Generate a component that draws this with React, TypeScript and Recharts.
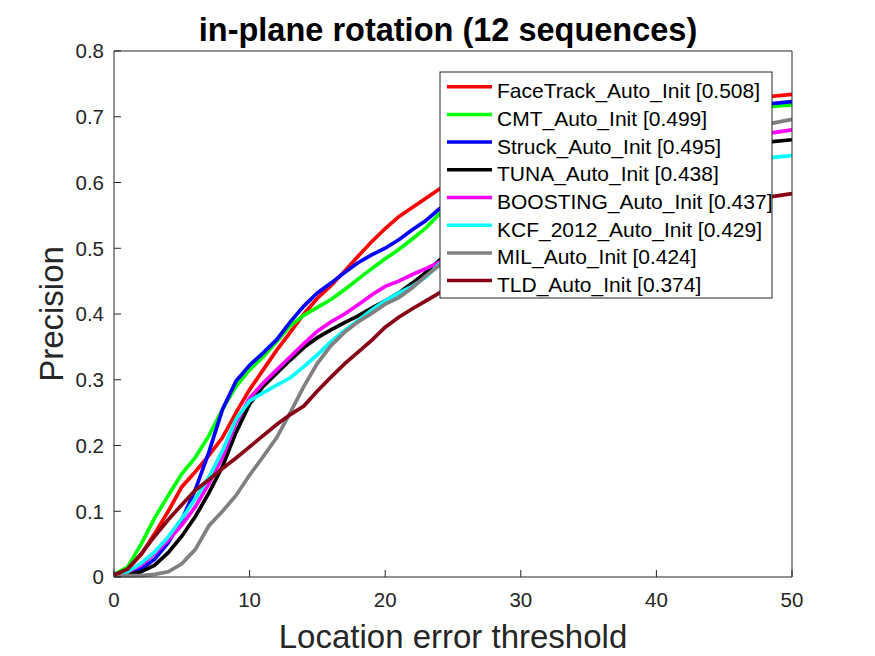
import React from 'react';
import { LineChart, Line, XAxis, YAxis } from 'recharts';

const THRESHOLDS = [0,1,2,3,4,5,6,7,8,9,10,11,12,13,14,15,16,17,18,19,20,21,22,23,24,26,28,30,32,34,36,38,40,42,44,46,48,50];

const FACETRACK = [0.004,0.012,0.034,0.066,0.1,0.137,0.16,0.185,0.212,0.25,0.285,0.315,0.345,0.372,0.4,0.424,0.443,0.465,0.488,0.51,0.53,0.548,0.562,0.576,0.59,0.612,0.632,0.65,0.665,0.678,0.689,0.698,0.706,0.713,0.719,0.725,0.73,0.734];
const CMT = [0.004,0.015,0.05,0.09,0.124,0.157,0.182,0.215,0.255,0.29,0.315,0.335,0.358,0.382,0.398,0.41,0.422,0.437,0.453,0.469,0.484,0.498,0.514,0.531,0.552,0.578,0.6,0.62,0.638,0.654,0.668,0.68,0.69,0.698,0.705,0.71,0.715,0.718];
const STRUCK = [0.004,0.005,0.012,0.027,0.052,0.087,0.133,0.19,0.255,0.298,0.322,0.341,0.361,0.388,0.412,0.432,0.447,0.463,0.478,0.49,0.5,0.513,0.528,0.542,0.56,0.585,0.607,0.627,0.643,0.658,0.671,0.682,0.692,0.7,0.707,0.713,0.719,0.723];
const TUNA = [0.004,0.004,0.008,0.018,0.037,0.062,0.092,0.128,0.168,0.22,0.263,0.29,0.31,0.33,0.349,0.364,0.376,0.387,0.397,0.409,0.42,0.432,0.447,0.463,0.482,0.51,0.535,0.556,0.575,0.592,0.607,0.62,0.631,0.641,0.649,0.655,0.661,0.665];
const BOOSTING = [0.004,0.008,0.018,0.036,0.056,0.079,0.107,0.142,0.182,0.235,0.272,0.295,0.315,0.335,0.355,0.374,0.388,0.4,0.414,0.429,0.442,0.45,0.46,0.469,0.479,0.505,0.53,0.553,0.574,0.594,0.611,0.626,0.639,0.65,0.659,0.667,0.674,0.68];
const KCF = [0.004,0.008,0.021,0.038,0.061,0.089,0.119,0.152,0.192,0.24,0.268,0.28,0.292,0.303,0.32,0.338,0.358,0.375,0.39,0.406,0.42,0.432,0.442,0.456,0.476,0.5,0.522,0.541,0.558,0.573,0.586,0.597,0.607,0.616,0.624,0.631,0.637,0.641];
const MIL = [0.002,0.002,0.002,0.004,0.008,0.02,0.042,0.078,0.1,0.124,0.155,0.183,0.212,0.25,0.29,0.325,0.352,0.372,0.388,0.401,0.415,0.425,0.44,0.458,0.474,0.502,0.528,0.552,0.574,0.594,0.612,0.628,0.642,0.655,0.667,0.678,0.688,0.696];
const TLD = [0.003,0.012,0.035,0.062,0.087,0.11,0.132,0.148,0.165,0.181,0.198,0.215,0.232,0.247,0.26,0.283,0.304,0.324,0.342,0.36,0.38,0.395,0.408,0.42,0.432,0.452,0.47,0.486,0.5,0.513,0.525,0.536,0.546,0.555,0.563,0.57,0.577,0.583];

const SERIES_KEYS = ['facetrack', 'cmt', 'struck', 'tuna', 'boosting', 'kcf', 'mil', 'tld'];
const SERIES_VALUES = [FACETRACK, CMT, STRUCK, TUNA, BOOSTING, KCF, MIL, TLD];
const SERIES_NAMES = [
  'FaceTrack_Auto_Init [0.508]',
  'CMT_Auto_Init [0.499]',
  'Struck_Auto_Init [0.495]',
  'TUNA_Auto_Init [0.438]',
  'BOOSTING_Auto_Init [0.437]',
  'KCF_2012_Auto_Init [0.429]',
  'MIL_Auto_Init [0.424]',
  'TLD_Auto_Init [0.374]',
];
const SERIES_COLORS = ['#ff0000', '#00ff00', '#0000ff', '#000000', '#ff00ff', '#00ffff', '#808080', '#880015'];

const X_TICKS = [0, 10, 20, 30, 40, 50];
const Y_TICKS = [0, 0.1, 0.2, 0.3, 0.4, 0.5, 0.6, 0.7, 0.8];

const TITLE = 'in-plane rotation (12 sequences)';
const X_LABEL = 'Location error threshold';
const Y_LABEL = 'Precision';

const FONT = '"Liberation Sans", Arial, Helvetica, sans-serif';
const AXIS_COLOR = '#262626';

const data = THRESHOLDS.map((t, i) => {
  const row: Record<string, number> = { t };
  SERIES_KEYS.forEach((k, s) => {
    row[k] = SERIES_VALUES[s][i];
  });
  return row;
});

function LegendBox() {
  const rowH = 27.7;
  return (
    <svg
      width={334}
      height={228}
      style={{ position: 'absolute', left: 439, top: 71, pointerEvents: 'none' }}
    >
      <rect x={1} y={1} width={332} height={226} fill="#ffffff" stroke={AXIS_COLOR} strokeWidth={1} />
      {SERIES_NAMES.map((name, i) => {
        const y = 15.7 + i * rowH;
        return (
          <g key={name}>
            <line x1={8} x2={53} y1={y} y2={y} stroke={SERIES_COLORS[i]} strokeWidth={3.5} />
            <text x={58} y={y + 11.5} fontSize={21} fontFamily={FONT} fill="#000000">
              {name}
            </text>
          </g>
        );
      })}
    </svg>
  );
}

export default function App() {
  return (
    <div style={{ position: 'absolute', left: 0, top: 0, width: 875, height: 656, background: '#ffffff' }}>
      <LineChart
        width={875}
        height={656}
        data={data}
        margin={{ top: 50, right: 82, bottom: 39, left: 54 }}
      >
        <XAxis
          dataKey="t"
          type="number"
          domain={[0, 50]}
          ticks={X_TICKS}
          height={40}
          tickSize={-7}
          tickMargin={22.5}
          stroke={AXIS_COLOR}
          tickLine={{ stroke: AXIS_COLOR }}
          axisLine={{ stroke: AXIS_COLOR }}
          tick={{ fontSize: 20.5, fill: AXIS_COLOR, fontFamily: FONT }}
          interval={0}
        />
        <XAxis
          xAxisId="top"
          orientation="top"
          type="number"
          domain={[0, 50]}
          ticks={X_TICKS}
          height={1}
          tickSize={-7}
          tick={false}
          tickLine={{ stroke: AXIS_COLOR }}
          axisLine={{ stroke: AXIS_COLOR }}
          stroke={AXIS_COLOR}
          interval={0}
        />
        <YAxis
          type="number"
          domain={[0, 0.8]}
          ticks={Y_TICKS}
          width={60}
          tickSize={-7}
          tickMargin={17}
          stroke={AXIS_COLOR}
          tickLine={{ stroke: AXIS_COLOR }}
          axisLine={{ stroke: AXIS_COLOR }}
          tick={{ fontSize: 20.5, fill: AXIS_COLOR, fontFamily: FONT }}
          tickFormatter={(v: number) => String(v)}
          interval={0}
        />
        <YAxis
          yAxisId="right"
          orientation="right"
          type="number"
          domain={[0, 0.8]}
          ticks={Y_TICKS}
          width={1}
          tickSize={-7}
          tick={false}
          tickLine={{ stroke: AXIS_COLOR }}
          axisLine={{ stroke: AXIS_COLOR }}
          stroke={AXIS_COLOR}
          interval={0}
        />
        {SERIES_KEYS.map((k, i) => (
          <Line
            key={k}
            dataKey={k}
            name={SERIES_NAMES[i]}
            type="linear"
            stroke={SERIES_COLORS[i]}
            strokeWidth={3.7}
            dot={false}
            activeDot={false}
            isAnimationActive={false}
          />
        ))}
      </LineChart>
      <svg width={875} height={656} style={{ position: 'absolute', left: 0, top: 0, pointerEvents: 'none' }}>
        <text x={448} y={41} textAnchor="middle" fontSize={32.5} fontWeight="bold" fontFamily={FONT} fill="#000000">
          {TITLE}
        </text>
        <text x={453} y={648} textAnchor="middle" fontSize={33} fontFamily={FONT} fill={AXIS_COLOR}>
          {X_LABEL}
        </text>
        <text
          x={0}
          y={0}
          transform="translate(63,314) rotate(-90)"
          textAnchor="middle"
          fontSize={33}
          fontFamily={FONT}
          fill={AXIS_COLOR}
        >
          {Y_LABEL}
        </text>
      </svg>
      <LegendBox />
    </div>
  );
}
